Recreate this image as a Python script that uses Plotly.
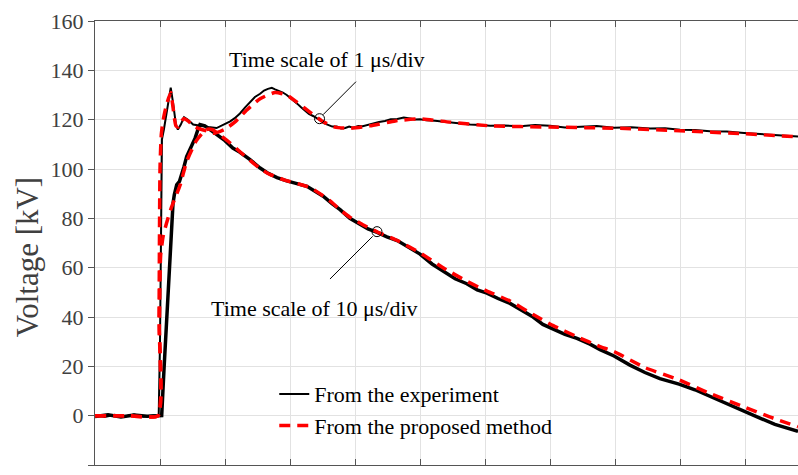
import plotly.graph_objects as go

# x in divisions of the oscilloscope screen, y in kV
xA_exp = [0, 0.15, 0.3, 0.45, 0.6, 0.75, 0.9, 0.98, 1.0, 1.015, 1.03, 1.06, 1.11, 1.165, 1.2, 1.245,
          1.275, 1.32, 1.37, 1.43, 1.51, 1.615, 1.74, 1.87, 1.97, 2.08, 2.15, 2.23, 2.31, 2.385, 2.46,
          2.54, 2.6, 2.66, 2.72, 2.77, 2.83, 2.89, 2.95, 3.0, 3.05, 3.11, 3.17, 3.23, 3.29, 3.355, 3.41,
          3.46, 3.52, 3.585, 3.65, 3.72, 3.785, 3.85, 3.91, 3.97, 4.05, 4.12, 4.2, 4.28, 4.37, 4.46,
          4.55, 4.65, 4.75, 4.85, 4.92, 5.0, 5.1, 5.23, 5.35, 5.46, 5.6, 5.77, 5.92, 6.08, 6.3, 6.54,
          6.77, 7.0, 7.23, 7.46, 7.72, 7.985, 8.25, 8.54, 8.77, 9.0, 9.23, 9.46, 9.72, 9.985, 10.18,
          10.38, 10.6, 10.815]
yA_exp = [0.3, -0.5, 0.4, -0.3, 0.5, -0.4, 0.2, 0.0, 30, 75, 112, 116, 124, 133, 127, 118,
          116, 118, 121, 120, 118, 117.5, 117, 116.6, 117.8, 119.3, 120.6, 122.5, 125, 127, 129.2,
          130.5, 131.8, 132.5, 132.9, 132.3, 131.8, 131, 130, 129, 127.8, 126.5, 125, 123.5, 122.3, 121.5, 120.7,
          119.8, 118.6, 118, 117.2, 117.2, 116.4, 116.6, 117.2, 116.7, 117.4, 117.3, 117.9, 118.3, 119.1, 119.5,
          120.2, 120.3, 120.9, 120.5, 120.1, 120.2, 119.8, 119.6, 119.2, 118.8, 118.4, 118, 117.8, 117.5, 117.6, 117.3,
          117.8, 117.5, 116.8, 117.1, 117.4, 116.7, 116.9, 116.4, 116.5, 115.9, 115.8, 115.3, 115.2, 114.6, 114.3,
          113.8, 113.6, 113.2]

xA_mod = [0, 0.5, 0.97, 0.985, 1.0, 1.02, 1.05, 1.1, 1.165, 1.2, 1.245, 1.28, 1.32, 1.37, 1.43, 1.54,
          1.77, 1.83, 1.99, 2.15, 2.34, 2.54, 2.77, 2.95, 3.11, 3.31, 3.49, 3.69, 3.92, 4.23, 4.62, 5.0,
          5.46, 6.08, 7.0, 8.08, 9.0, 9.985, 10.815]
yA_mod = [0, 0, 0, 40, 100, 114, 120, 126, 131, 125, 117.5, 117, 119, 120.5, 119.5, 117,
          115, 114.5, 116, 119, 124, 128.5, 131, 130, 127, 123, 119.5, 117, 116.5, 117.5, 119.5, 120.3,
          119, 117.5, 117, 116.5, 115.5, 114.3, 113]

xB_exp = [0, 0.2, 0.4, 0.6, 0.8, 0.95, 1.026, 1.06, 1.09, 1.12, 1.155, 1.18, 1.2, 1.22, 1.257, 1.3,
          1.334, 1.37, 1.41, 1.477, 1.54, 1.59, 1.615, 1.69, 1.77, 1.87, 2.0, 2.12, 2.23, 2.385, 2.54,
          2.65, 2.8, 2.95, 3.11, 3.26, 3.385, 3.51, 3.646, 3.77, 3.92, 4.08, 4.2, 4.34, 4.49, 4.65,
          4.85, 5.0, 5.185, 5.355, 5.54, 5.72, 5.88, 6.03, 6.2, 6.385, 6.57, 6.74, 6.89, 7.05, 7.23,
          7.415, 7.615, 7.77, 7.985, 8.23, 8.46, 8.69, 8.985, 9.23, 9.46, 9.69, 9.985, 10.23, 10.46,
          10.65, 10.815]
yB_exp = [-0.3, 0.4, -0.5, 0.3, -0.2, 0.1, 0, 18, 33, 50, 67, 80, 86, 89.5, 93.6, 95,
          97.5, 101, 105, 109, 112.5, 116.5, 118, 117.5, 116, 114, 111.5, 108.5, 106.8, 103.8, 100.4,
          98.5, 96.5, 95.2, 94.2, 93, 91, 89, 86, 83.5, 80, 77.5, 75.7, 74.3, 72.5, 71,
          67.8, 65.5, 61.5, 58.5, 55.5, 53.5, 51, 49.7, 47.5, 45.5, 42.5, 40, 37, 35, 33,
          31.3, 29, 26.8, 24.2, 20.5, 17.5, 15, 12.8, 10.5, 7.8, 5, 1.7, -1, -3.5,
          -5.2, -6.4]

xB_mod = [0, 0.5, 0.97, 0.99, 1.01, 1.05, 1.1, 1.17, 1.31, 1.41, 1.56, 1.71, 1.8, 1.91, 2.08, 2.23,
          2.385, 2.54, 2.69, 2.92, 3.15, 3.31, 3.46, 3.62, 3.77, 3.92, 4.08, 4.34, 4.65, 5.0, 5.385,
          5.72, 6.03, 6.385, 6.74, 7.05, 7.415, 7.77, 7.985, 8.46, 8.985, 9.46, 9.985, 10.38, 10.815]
yB_mod = [0, 0, 0, 35, 65, 73, 78, 84, 93.5, 103, 111.5, 116, 116, 114, 110.5, 107,
          103.5, 100.2, 97.8, 95.5, 93.8, 92.5, 90, 87, 83.5, 80.5, 78, 74.5, 71, 66, 59.5,
          54.5, 50.5, 46.5, 41, 36.5, 32, 28, 26, 19.5, 14.5, 9, 3.5, -0.5, -4.5]

y_ticks = [-20, 0, 20, 40, 60, 80, 100, 120, 140, 160]
legend_names = ["From the experiment", "From the proposed method"]
y_title = "Voltage [kV]"
label_1us = "Time scale of 1 \u03bcs/div"
label_10us = "Time scale of 10 \u03bcs/div"
pt_1us = (3.454, 120.4)
pt_10us = (4.338, 74.6)
lead_1us = (3.508, 122.0, 4.015, 135.4)
lead_10us = (4.272, 72.7, 3.615, 55.4)
txt_1us = (3.57, 144.3)
txt_10us = (3.37, 43.4)

SERIF = "Liberation Serif, Times New Roman, serif"
fig = go.Figure()
fig.add_trace(go.Scatter(x=xA_exp, y=yA_exp, mode="lines", name=legend_names[0],
                         line=dict(color="black", width=2)))
fig.add_trace(go.Scatter(x=xB_exp, y=yB_exp, mode="lines", name=legend_names[0], showlegend=False,
                         line=dict(color="black", width=3.5)))
fig.add_trace(go.Scatter(x=xA_mod, y=yA_mod, mode="lines", name=legend_names[1],
                         line=dict(color="#ff0000", width=3.5, dash="11px,7px", shape="spline", smoothing=0.5)))
fig.add_trace(go.Scatter(x=xB_mod, y=yB_mod, mode="lines", name=legend_names[1], showlegend=False,
                         line=dict(color="#ff0000", width=3.5, dash="11px,7px", shape="spline", smoothing=0.5)))

shapes = []
for (cx, cy) in (pt_1us, pt_10us):
    shapes.append(dict(type="circle", xref="x", yref="y", xsizemode="pixel", ysizemode="pixel",
                       xanchor=cx, yanchor=cy, x0=-5, x1=5, y0=-5, y1=5,
                       line=dict(color="black", width=1)))
for (x0, y0, x1, y1) in (lead_1us, lead_10us):
    shapes.append(dict(type="line", xref="x", yref="y", x0=x0, y0=y0, x1=x1, y1=y1,
                       line=dict(color="black", width=1)))

annotations = [
    dict(x=txt_1us[0], y=txt_1us[1], xref="x", yref="y", text=label_1us, showarrow=False,
         font=dict(family=SERIF, size=22, color="black")),
    dict(x=txt_10us[0], y=txt_10us[1], xref="x", yref="y", text=label_10us, showarrow=False,
         font=dict(family=SERIF, size=22, color="black")),
    dict(x=-0.0967, y=0.468, xref="paper", yref="paper", text=y_title, showarrow=False,
         textangle=-90, xanchor="center", yanchor="middle",
         font=dict(family=SERIF, size=31, color="#404040")),
]

fig.update_layout(
    width=798, height=475,
    margin=dict(l=95, r=0, t=21, b=10),
    plot_bgcolor="white", paper_bgcolor="white",
    shapes=shapes, annotations=annotations,
    legend=dict(x=0.255, y=0.207, xanchor="left", yanchor="top", bgcolor="rgba(0,0,0,0)",
                tracegroupgap=0, font=dict(family=SERIF, size=22, color="black")),
    xaxis=dict(range=[0, 10.815], tick0=0, dtick=1, showticklabels=False, ticks="inside", ticklen=6,
               tickcolor="#555555", showline=True, linecolor="#555555", linewidth=1, mirror="ticks",
               showgrid=True, gridcolor="#e2e2e2", gridwidth=1, zeroline=False),
    yaxis=dict(range=[-20, 160], tickvals=y_ticks, ticks="outside", ticklen=6, tickcolor="#555555",
               showline=True, linecolor="#555555", linewidth=1, mirror=False,
               showgrid=True, gridcolor="#e2e2e2", gridwidth=1, zeroline=False,
               tickfont=dict(family=SERIF, size=22, color="#404040")),
)

fig.write_html("out.html")
